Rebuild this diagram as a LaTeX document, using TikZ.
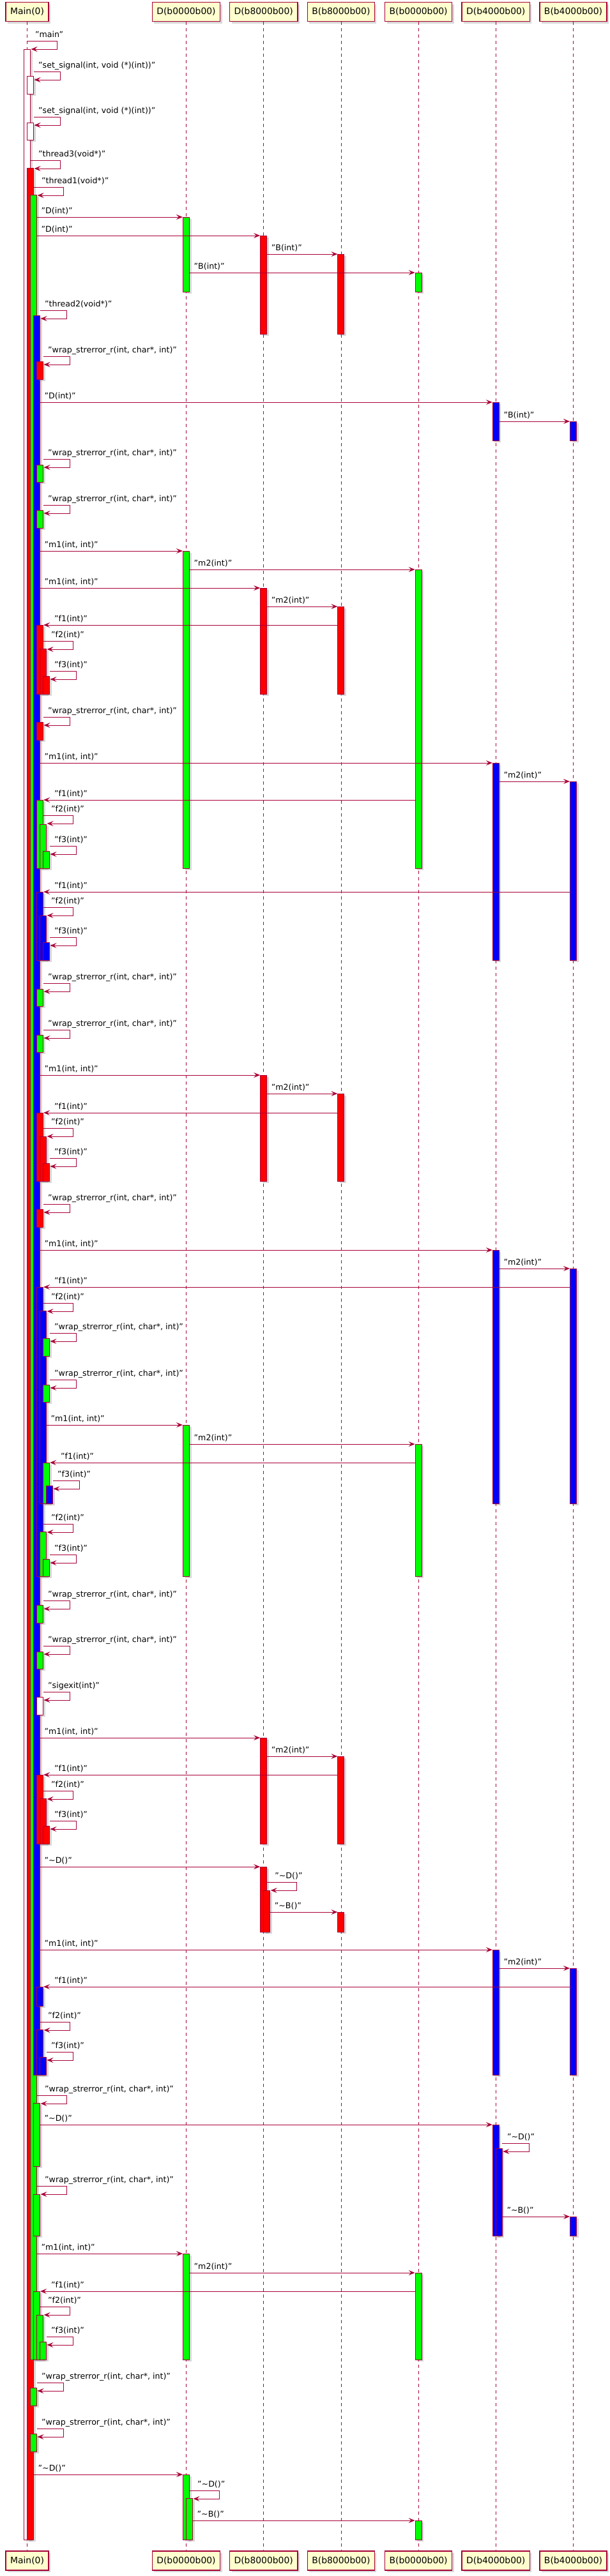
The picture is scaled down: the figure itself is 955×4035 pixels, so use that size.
\documentclass[tikz,border=0pt]{standalone}
\usepackage{fontspec}
\setmainfont{DejaVu Sans}
\usepackage{tikz}
\usetikzlibrary{arrows.meta,calc,shadows}
\definecolor{plumline}{HTML}{A80036}
\definecolor{plumbox}{HTML}{FEFECE}
\definecolor{actred}{HTML}{FF0000}
\definecolor{actgreen}{HTML}{00FF00}
\definecolor{actblue}{HTML}{0000FF}
\tikzstyle{participant} = [rectangle, draw=plumline, line width=1.5pt, fill=plumbox, minimum height=30pt, inner xsep=7pt, font=\fontsize{13.9}{16}\selectfont, drop shadow={shadow xshift=3pt, shadow yshift=-3pt, opacity=.3}]
\tikzstyle{lifeline} = [draw=plumline, line width=.8pt, dash pattern=on 5pt off 5pt]
\tikzstyle{actbar} = [draw=plumline, line width=1pt, drop shadow={shadow xshift=3pt, shadow yshift=-3pt, opacity=.3}]
\tikzstyle{msg} = [draw=plumline, line width=1pt, -{Stealth[length=10pt, width=8pt, inset=4pt]}]
\tikzstyle{lbl} = [anchor=base west, inner sep=0pt, font=\fontsize{12.6}{14}\selectfont]
% activation bar: lifeline, level, top, bottom, colour
\newcommand{\actbox}[5]{%
  \coordinate (a1) at ($(#1 |- 0,#3)+({5*#2-5},0)$);
  \coordinate (a2) at ($(#1 |- 0,#4)+({5*#2+5},0)$);
  \draw [actbar, fill=#5] (a1) rectangle (a2);}
% call to the right: from, from level, to, y, label
\newcommand{\sendmsg}[5]{%
  \coordinate (m1) at ($(#1 |- 0,#4)+({5*#2+5},0)$);
  \coordinate (m2) at ($(#3 |- 0,#4)+(-5.5,0)$);
  \path [msg] (m1) -- (m2);
  \node [lbl] at ($(m1)+(7,-6)$) {#5};}
% call to the left: from, to, to level, y, label
\newcommand{\backmsg}[5]{%
  \coordinate (m1) at ($(#1 |- 0,#4)+(-5,0)$);
  \coordinate (m2) at ($(#2 |- 0,#4)+({5*#3+5.5},0)$);
  \path [msg] (m1) -- (m2);
  \node [lbl] at ($(m2)+(17,-6)$) {#5};}
% self call: lifeline, start level, new level, y, label
\newcommand{\selfmsg}[5]{%
  \coordinate (s1) at ($(#1 |- 0,#4)+({5*#2+5},0)$);
  \coordinate (s2) at ($(#1 |- 0,#4)+({5*#3+47},0)$);
  \coordinate (s3) at ($(#1 |- 0,#4)+({5*#3+47},13)$);
  \coordinate (s4) at ($(#1 |- 0,#4)+({5*#3+6},13)$);
  \path [msg] (s1) -- (s2) -- (s3) -- (s4);
  \node [lbl] at ($(#1 |- 0,#4)+({5*#3+12.5},-6)$) {#5};}
\newcommand{\wrapr}{"wrap\_strerror\_r(int, char*, int)"}

\begin{document}
\begin{tikzpicture}[x=1pt, y=-1pt, node distance=121.2pt]
\useasboundingbox [fill=white] (0,0) rectangle (955,4035);
% Place nodes
\node [participant] (main) at (42.5,18.5) {Main(0)};
\node [participant] (d0) at (291.5,18.5) {D(b0000b00)};
\node [participant, right of=d0] (d8) {D(b8000b00)};
\node [participant, right of=d8] (b8) {B(b8000b00)};
\node [participant, right of=b8] (b0) {B(b0000b00)};
\node [participant, right of=b0] (d4) {D(b4000b00)};
\node [participant, right of=d4] (b4) {B(b4000b00)};
\node [participant] (main-end) at (42.5,4011) {Main(0)};
\node [participant] (d0-end) at (291.5,4011) {D(b0000b00)};
\node [participant, right of=d0-end] (d8-end) {D(b8000b00)};
\node [participant, right of=d8-end] (b8-end) {B(b8000b00)};
\node [participant, right of=b8-end] (b0-end) {B(b0000b00)};
\node [participant, right of=b0-end] (d4-end) {D(b4000b00)};
\node [participant, right of=d4-end] (b4-end) {B(b4000b00)};
% Lifelines
\path [lifeline] (main.south) -- (main-end.north);
\path [lifeline] (d0.south) -- (d0-end.north);
\path [lifeline] (d8.south) -- (d8-end.north);
\path [lifeline] (b8.south) -- (b8-end.north);
\path [lifeline] (b0.south) -- (b0-end.north);
\path [lifeline] (d4.south) -- (d4-end.north);
\path [lifeline] (b4.south) -- (b4-end.north);
% Activations of Main(0)
\actbox{main}{0}{77}{3978}{white}
\actbox{main}{1}{119}{147}{white}
\actbox{main}{1}{192}{219}{white}
\actbox{main}{1}{263}{3978}{actred}
\actbox{main}{2}{305}{3696}{actgreen}
\actbox{main}{3}{494}{3250}{actblue}
\actbox{main}{4}{566}{594}{actred}
\actbox{main}{4}{728}{755}{actgreen}
\actbox{main}{4}{799}{827}{actgreen}
\actbox{main}{4}{979}{1087}{actred}
\actbox{main}{5}{1016}{1087}{actred}
\actbox{main}{6}{1059}{1087}{actred}
\actbox{main}{4}{1131}{1159}{actred}
\actbox{main}{4}{1253}{1360}{actgreen}
\actbox{main}{5}{1291}{1360}{actgreen}
\actbox{main}{6}{1333}{1360}{actgreen}
\actbox{main}{4}{1397}{1504}{actblue}
\actbox{main}{5}{1434}{1504}{actblue}
\actbox{main}{6}{1476}{1504}{actblue}
\actbox{main}{4}{1549}{1576}{actgreen}
\actbox{main}{4}{1621}{1648}{actgreen}
\actbox{main}{4}{1743}{1850}{actred}
\actbox{main}{5}{1780}{1850}{actred}
\actbox{main}{6}{1822}{1850}{actred}
\actbox{main}{4}{1894}{1922}{actred}
\actbox{main}{4}{2016}{2469}{actblue}
\actbox{main}{5}{2053}{2355}{actblue}
\actbox{main}{6}{2096}{2124}{actgreen}
\actbox{main}{6}{2169}{2196}{actgreen}
\actbox{main}{6}{2291}{2355}{actgreen}
\actbox{main}{7}{2327}{2355}{actblue}
\actbox{main}{5}{2399}{2469}{actgreen}
\actbox{main}{6}{2442}{2469}{actgreen}
\actbox{main}{4}{2514}{2542}{actgreen}
\actbox{main}{4}{2587}{2614}{actgreen}
\actbox{main}{4}{2658}{2686}{white}
\actbox{main}{4}{2780}{2888}{actred}
\actbox{main}{5}{2817}{2888}{actred}
\actbox{main}{6}{2860}{2888}{actred}
\actbox{main}{4}{3112}{3142}{actblue}
\actbox{main}{4}{3179}{3250}{actblue}
\actbox{main}{5}{3222}{3250}{actblue}
\actbox{main}{3}{3294}{3393}{actgreen}
\actbox{main}{3}{3437}{3502}{actgreen}
\actbox{main}{3}{3589}{3696}{actgreen}
\actbox{main}{4}{3626}{3696}{actgreen}
\actbox{main}{5}{3668}{3696}{actgreen}
\actbox{main}{2}{3740}{3768}{actgreen}
\actbox{main}{2}{3812}{3840}{actgreen}
% Activations of the objects
\actbox{d0}{0}{340}{457}{actgreen}
\actbox{d0}{0}{863}{1360}{actgreen}
\actbox{d0}{0}{2232}{2469}{actgreen}
\actbox{d0}{0}{3530}{3696}{actgreen}
\actbox{d0}{0}{3876}{3978}{actgreen}
\actbox{d0}{1}{3913}{3978}{actgreen}
\actbox{d8}{0}{369}{523}{actred}
\actbox{d8}{0}{921}{1087}{actred}
\actbox{d8}{0}{1684}{1850}{actred}
\actbox{d8}{0}{2722}{2888}{actred}
\actbox{d8}{0}{2924}{3026}{actred}
\actbox{d8}{1}{2961}{3026}{actred}
\actbox{b8}{0}{398}{523}{actred}
\actbox{b8}{0}{950}{1087}{actred}
\actbox{b8}{0}{1713}{1850}{actred}
\actbox{b8}{0}{2751}{2888}{actred}
\actbox{b8}{0}{2995}{3026}{actred}
\actbox{b0}{0}{427}{457}{actgreen}
\actbox{b0}{0}{892}{1360}{actgreen}
\actbox{b0}{0}{2262}{2469}{actgreen}
\actbox{b0}{0}{3560}{3696}{actgreen}
\actbox{b0}{0}{3948}{3978}{actgreen}
\actbox{d4}{0}{630}{690}{actblue}
\actbox{d4}{0}{1195}{1504}{actblue}
\actbox{d4}{0}{1958}{2355}{actblue}
\actbox{d4}{0}{3054}{3250}{actblue}
\actbox{d4}{0}{3328}{3502}{actblue}
\actbox{d4}{1}{3365}{3502}{actblue}
\actbox{b4}{0}{660}{690}{actblue}
\actbox{b4}{0}{1224}{1504}{actblue}
\actbox{b4}{0}{1987}{2355}{actblue}
\actbox{b4}{0}{3083}{3250}{actblue}
\actbox{b4}{0}{3472}{3502}{actblue}
% Draw edges
\selfmsg{main}{-1}{0}{64}{"main"}
\selfmsg{main}{1}{1}{112}{"set\_signal(int, void (*)(int))"}
\selfmsg{main}{1}{1}{183}{"set\_signal(int, void (*)(int))"}
\selfmsg{main}{0}{1}{251}{"thread3(void*)"}
\selfmsg{main}{1}{2}{293}{"thread1(void*)"}
\sendmsg{main}{2}{d0}{340}{"D(int)"}
\sendmsg{main}{2}{d8}{369}{"D(int)"}
\sendmsg{d8}{0}{b8}{398}{"B(int)"}
\sendmsg{d0}{0}{b0}{427}{"B(int)"}
\selfmsg{main}{3}{3}{486}{"thread2(void*)"}
\selfmsg{main}{4}{4}{558}{\wrapr}
\sendmsg{main}{3}{d4}{630}{"D(int)"}
\sendmsg{d4}{0}{b4}{660}{"B(int)"}
\selfmsg{main}{4}{4}{719}{\wrapr}
\selfmsg{main}{4}{4}{791}{\wrapr}
\sendmsg{main}{3}{d0}{863}{"m1(int, int)"}
\sendmsg{d0}{0}{b0}{892}{"m2(int)"}
\sendmsg{main}{3}{d8}{921}{"m1(int, int)"}
\sendmsg{d8}{0}{b8}{950}{"m2(int)"}
\backmsg{b8}{main}{4}{979}{"f1(int)"}
\selfmsg{main}{4}{5}{1004}{"f2(int)"}
\selfmsg{main}{6}{6}{1051}{"f3(int)"}
\selfmsg{main}{4}{4}{1123}{\wrapr}
\sendmsg{main}{3}{d4}{1195}{"m1(int, int)"}
\sendmsg{d4}{0}{b4}{1224}{"m2(int)"}
\backmsg{b0}{main}{4}{1253}{"f1(int)"}
\selfmsg{main}{4}{5}{1277}{"f2(int)"}
\selfmsg{main}{6}{6}{1325}{"f3(int)"}
\backmsg{b4}{main}{4}{1397}{"f1(int)"}
\selfmsg{main}{4}{5}{1421}{"f2(int)"}
\selfmsg{main}{6}{6}{1468}{"f3(int)"}
\selfmsg{main}{4}{4}{1540}{\wrapr}
\selfmsg{main}{4}{4}{1613}{\wrapr}
\sendmsg{main}{3}{d8}{1684}{"m1(int, int)"}
\sendmsg{d8}{0}{b8}{1713}{"m2(int)"}
\backmsg{b8}{main}{4}{1743}{"f1(int)"}
\selfmsg{main}{4}{5}{1767}{"f2(int)"}
\selfmsg{main}{6}{6}{1814}{"f3(int)"}
\selfmsg{main}{4}{4}{1886}{\wrapr}
\sendmsg{main}{3}{d4}{1958}{"m1(int, int)"}
\sendmsg{d4}{0}{b4}{1987}{"m2(int)"}
\backmsg{b4}{main}{4}{2016}{"f1(int)"}
\selfmsg{main}{4}{5}{2041}{"f2(int)"}
\selfmsg{main}{6}{6}{2088}{\wrapr}
\selfmsg{main}{6}{6}{2161}{\wrapr}
\sendmsg{main}{5}{d0}{2232}{"m1(int, int)"}
\sendmsg{d0}{0}{b0}{2262}{"m2(int)"}
\backmsg{b0}{main}{6}{2291}{"f1(int)"}
\selfmsg{main}{7}{7}{2319}{"f3(int)"}
\selfmsg{main}{4}{5}{2387}{"f2(int)"}
\selfmsg{main}{6}{6}{2435}{"f3(int)"}
\selfmsg{main}{4}{4}{2507}{\wrapr}
\selfmsg{main}{4}{4}{2578}{\wrapr}
\selfmsg{main}{4}{4}{2650}{"sigexit(int)"}
\sendmsg{main}{3}{d8}{2722}{"m1(int, int)"}
\sendmsg{d8}{0}{b8}{2751}{"m2(int)"}
\backmsg{b8}{main}{4}{2780}{"f1(int)"}
\selfmsg{main}{4}{5}{2805}{"f2(int)"}
\selfmsg{main}{6}{6}{2852}{"f3(int)"}
\sendmsg{main}{3}{d8}{2924}{"\textasciitilde D()"}
\selfmsg{d8}{0}{1}{2948}{"\textasciitilde D()"}
\sendmsg{d8}{1}{b8}{2995}{"\textasciitilde B()"}
\sendmsg{main}{3}{d4}{3054}{"m1(int, int)"}
\sendmsg{d4}{0}{b4}{3083}{"m2(int)"}
\backmsg{b4}{main}{4}{3112}{"f1(int)"}
\selfmsg{main}{3}{4}{3167}{"f2(int)"}
\selfmsg{main}{5}{5}{3214}{"f3(int)"}
\selfmsg{main}{2}{3}{3282}{\wrapr}
\sendmsg{main}{3}{d4}{3328}{"\textasciitilde D()"}
\selfmsg{d4}{1}{1}{3357}{"\textasciitilde D()"}
\selfmsg{main}{2}{3}{3424}{\wrapr}
\sendmsg{d4}{1}{b4}{3472}{"\textasciitilde B()"}
\sendmsg{main}{2}{d0}{3530}{"m1(int, int)"}
\sendmsg{d0}{0}{b0}{3560}{"m2(int)"}
\backmsg{b0}{main}{3}{3589}{"f1(int)"}
\selfmsg{main}{3}{4}{3613}{"f2(int)"}
\selfmsg{main}{5}{5}{3660}{"f3(int)"}
\selfmsg{main}{2}{2}{3732}{\wrapr}
\selfmsg{main}{2}{2}{3804}{\wrapr}
\sendmsg{main}{1}{d0}{3876}{"\textasciitilde D()"}
\selfmsg{d0}{0}{1}{3901}{"\textasciitilde D()"}
\sendmsg{d0}{1}{b0}{3948}{"\textasciitilde B()"}
\end{tikzpicture}
\end{document}
